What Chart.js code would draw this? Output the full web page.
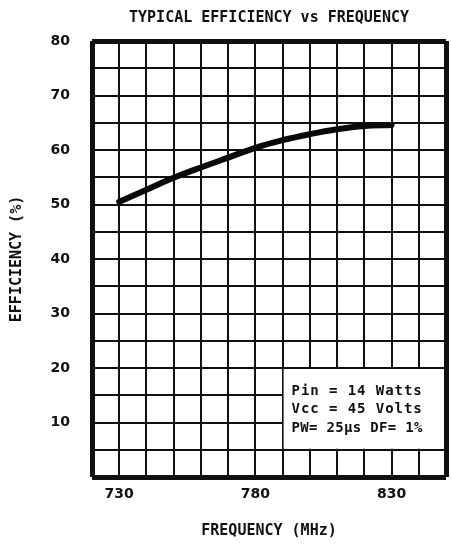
<!DOCTYPE html>
<html>
<head>
<meta charset="utf-8">
<script src="https://cdn.jsdelivr.net/npm/chart.js@4/dist/chart.umd.min.js"></script>
<style>
  html, body { margin: 0; padding: 0; background: #fff; }
  #wrap { width: 452px; height: 546px; }
</style>
</head>
<body>
<div id="wrap"><canvas id="effChart" width="452" height="546"></canvas></div>
<script>
// --- data ---
const frequencies = [730, 740, 750, 760, 770, 780, 790, 800, 810, 820, 830];
const efficiency = [50.5, 52.7, 54.9, 56.8, 58.6, 60.4, 61.8, 62.9, 63.8, 64.4, 64.6];
const xTickLabels = [730, 780, 830];
const yTickLabels = [10, 20, 30, 40, 50, 60, 70, 80];
const noteLines = ['Pin = 14 Watts', 'Vcc = 45 Volts', 'PW= 25\u00b5s DF= 1%'];

const mono = '"DejaVu Sans Mono", monospace';
const sans = '"DejaVu Sans", sans-serif';

// white box with the operating conditions, sitting in the lower right cells
const noteBox = {
  id: 'noteBox',
  beforeDatasetsDraw(chart) {
    const { ctx, scales: { x, y } } = chart;
    const l = x.getPixelForValue(790) + 1;
    const edge = x.getPixelForValue(850);
    const t = y.getPixelForValue(20) + 1;
    const b = y.getPixelForValue(5) - 1;
    ctx.save();
    ctx.fillStyle = '#fff';
    ctx.fillRect(l, t, edge - l, b - t);
    // put the heavy right frame back over the box
    ctx.strokeStyle = '#111';
    ctx.lineWidth = 5;
    ctx.beginPath();
    ctx.moveTo(Math.round(edge) + 0.5, t - 1);
    ctx.lineTo(Math.round(edge) + 0.5, b + 1);
    ctx.stroke();
    ctx.fillStyle = '#111';
    ctx.font = 'bold 14px ' + mono;
    ctx.textBaseline = 'middle';
    noteLines.forEach((line, i) => {
      // the typed lines all run about the same width
      ctx.letterSpacing = ((131 - ctx.measureText(line).width) / line.length) + 'px';
      ctx.fillText(line, l + 8, t + 22 + i * 18.5);
      ctx.letterSpacing = '0px';
    });
    ctx.restore();
  }
};

const edgeWidth = (v, lo, hi) => (v === lo || v === hi) ? 5 : 2;

new Chart(document.getElementById('effChart').getContext('2d'), {
  type: 'line',
  data: {
    datasets: [{
      data: frequencies.map((f, i) => ({ x: f, y: efficiency[i] })),
      borderColor: '#0a0a0a',
      borderWidth: 6,
      borderCapStyle: 'round',
      tension: 0.4,
      pointRadius: 0,
      fill: false
    }]
  },
  options: {
    responsive: false,
    animation: false,
    devicePixelRatio: 1,
    layout: { padding: { left: 0, right: 0, top: 0, bottom: 0 } },
    plugins: {
      legend: { display: false },
      tooltip: { enabled: false },
      title: {
        display: true,
        text: 'TYPICAL EFFICIENCY vs FREQUENCY',
        fullSize: false,
        color: '#111',
        font: { family: mono, size: 15, weight: 'bold' },
        padding: { top: 9, bottom: 14 }
      }
    },
    scales: {
      x: {
        type: 'linear',
        min: 720,
        max: 850,
        afterFit: s => { s.height = 69; },
        afterBuildTicks: s => {
          s.ticks = [];
          for (let v = 720; v <= 850; v += 10) s.ticks.push({ value: v });
        },
        border: { display: false },
        grid: {
          color: '#111',
          lineWidth: c => edgeWidth(c.tick.value, 720, 850),
          drawTicks: false
        },
        ticks: {
          padding: 6,
          maxRotation: 0,
          autoSkip: false,
          color: '#111',
          font: { family: sans, size: 14, weight: 'bold', lineHeight: 1.57 },
          callback: v => xTickLabels.includes(v) ? String(v) : ''
        },
        title: {
          display: true,
          text: 'FREQUENCY (MHz)',
          color: '#111',
          font: { family: mono, size: 15, weight: 'bold' },
          padding: { top: 0, bottom: 6 }
        }
      },
      y: {
        min: 0,
        max: 80,
        afterFit: s => { s.width = 92; },
        afterBuildTicks: s => {
          s.ticks = [];
          for (let v = 0; v <= 80; v += 5) s.ticks.push({ value: v });
        },
        border: { display: false },
        grid: {
          color: '#111',
          lineWidth: c => edgeWidth(c.tick.value, 0, 80),
          drawTicks: false
        },
        ticks: {
          padding: 22,
          autoSkip: false,
          color: '#111',
          font: { family: sans, size: 14, weight: 'bold' },
          callback: v => yTickLabels.includes(v) ? String(v) : ''
        },
        title: {
          display: true,
          text: 'EFFICIENCY (%)',
          color: '#111',
          font: { family: mono, size: 15, weight: 'bold' },
          padding: { top: 8, bottom: 0 }
        }
      }
    }
  },
  plugins: [noteBox]
});
</script>
</body>
</html>
